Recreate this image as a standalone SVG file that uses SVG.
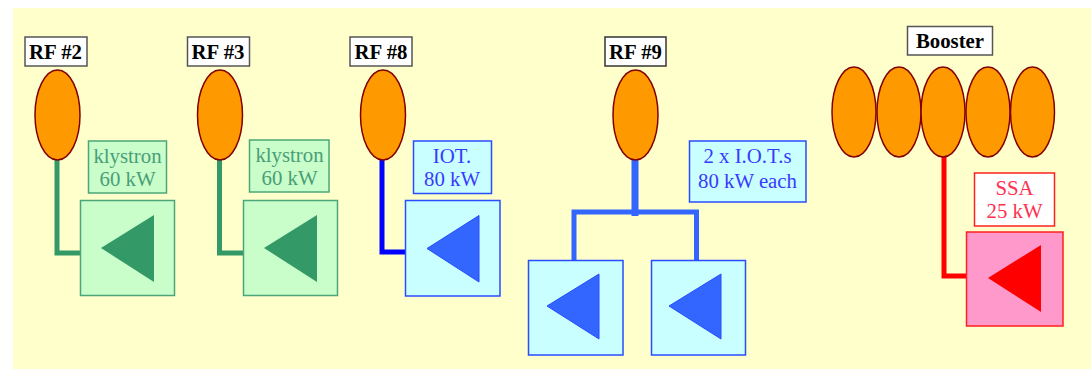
<svg xmlns="http://www.w3.org/2000/svg" width="1091" height="370" viewBox="0 0 1091 370">
<style>
text{font-family:"Liberation Serif","Times New Roman",serif;font-size:20.800px;text-anchor:middle}
.t{fill:#fff;stroke:#555;stroke-width:1.500}
.t1{font-weight:bold;fill:#000}
.c{fill:#f90;stroke:#800000;stroke-width:1.500}
.g{fill:#c9fdc9;stroke:#4ca67a;stroke-width:1.500}
.gt{fill:#339966}
.gl{fill:#4a9e78}
.b{fill:#c9ffff;stroke:#2a4cff;stroke-width:1.500}
.bt{fill:#3366ff;stroke:#2a4cff;stroke-width:1}
.bl{fill:#3a3aff}
.r{fill:#ff99cc;stroke:#ff2020;stroke-width:1.500}
.rb{fill:#fff;stroke:#ff2020;stroke-width:1.500}
.rt{fill:#f00}
.rl{fill:#ff3050}
.w{fill:none}
</style>
<rect x="13" y="8" width="1078" height="361" fill="#ffffcc"/>
<g id="connectors" class="w">
<path d="M57 160V253H81" stroke="#339966" stroke-width="5"/>
<path d="M219.500 160V253H244" stroke="#339966" stroke-width="5"/>
<path d="M382 160V252H406" stroke="#0000ff" stroke-width="5"/>
<path d="M635 158V216" stroke="#3366ff" stroke-width="7"/>
<path d="M574 261V212H696.500V261" stroke="#3366ff" stroke-width="5"/>
<path d="M944 156V276H967" stroke="#ff0000" stroke-width="5"/>
</g>
<g id="rf2">
<rect class="t" x="25" y="37" width="62" height="29"/><text class="t1" x="55.500" y="59">RF #2</text>
<ellipse class="c" cx="57.500" cy="115" rx="22.500" ry="45"/>
</g>
<g id="klystron2">
<rect class="g" x="88.500" y="141" width="78" height="52"/><text class="gl" x="127.500" y="162.500">klystron</text><text class="gl" x="127.500" y="185.500">60 kW</text>
<rect class="g" x="80.500" y="200.500" width="94" height="95"/><polygon class="gt" points="101,248 154,215 154,282"/>
</g>
<g id="rf3">
<rect class="t" x="187.500" y="37" width="62" height="29"/><text class="t1" x="218" y="59">RF #3</text>
<ellipse class="c" cx="220" cy="115" rx="22.500" ry="45"/>
</g>
<g id="klystron3">
<rect class="g" x="249.500" y="140" width="79.500" height="52"/><text class="gl" x="289.500" y="161.500">klystron</text><text class="gl" x="289.500" y="184.500">60 kW</text>
<rect class="g" x="243.500" y="200.500" width="94" height="95"/><polygon class="gt" points="264,248 317,215 317,282"/>
</g>
<g id="rf8">
<rect class="t" x="350" y="37" width="62" height="29"/><text class="t1" x="381" y="59">RF #8</text>
<ellipse class="c" cx="383" cy="115" rx="22.500" ry="45"/>
</g>
<g id="iot8">
<rect class="b" x="413.500" y="141" width="78" height="52.500"/><text class="bl" x="452" y="163">IOT.</text><text class="bl" x="452" y="186">80 kW</text>
<rect class="b" x="405.500" y="200.500" width="94.500" height="95.500"/><polygon class="bt" points="427,248.500 479,215.500 479,282"/>
</g>
<g id="rf9">
<rect class="t" x="605" y="37" width="61" height="29" style="stroke:#333"/><text class="t1" x="635.500" y="59">RF #9</text>
<ellipse class="c" cx="635.500" cy="115" rx="22.500" ry="45"/>
</g>
<g id="iot9label">
<rect class="b" x="689.500" y="141" width="116.500" height="61"/><text class="bl" x="747.500" y="163">2 x I.O.T.s</text><text class="bl" x="747.500" y="188">80 kW each</text>
</g>
<g id="iot9a">
<rect class="b" x="528.500" y="260.500" width="94.500" height="94.500"/><polygon class="bt" points="547,306 599,274 599,339"/>
</g>
<g id="iot9b">
<rect class="b" x="651.500" y="260.500" width="94" height="94.500"/><polygon class="bt" points="669,306 721,274 721,339"/>
</g>
<g id="booster">
<rect class="t" x="907.500" y="26.500" width="85" height="28.500"/><text class="t1" x="950" y="48">Booster</text>
<ellipse class="c" cx="854" cy="112" rx="22" ry="45"/>
<ellipse class="c" cx="899" cy="112" rx="22" ry="45"/>
<ellipse class="c" cx="943" cy="112" rx="22" ry="45"/>
<ellipse class="c" cx="988" cy="112" rx="22" ry="45"/>
<ellipse class="c" cx="1032.500" cy="112" rx="22" ry="45"/>
</g>
<g id="ssa">
<rect class="rb" x="974.500" y="173" width="80" height="53"/><text class="rl" x="1014.500" y="195">SSA</text><text class="rl" x="1014.500" y="218">25 kW</text>
<rect class="r" x="966.500" y="232" width="96.500" height="94"/><polygon class="rt" points="988,278 1041,245 1041,312"/>
</g>
</svg>
